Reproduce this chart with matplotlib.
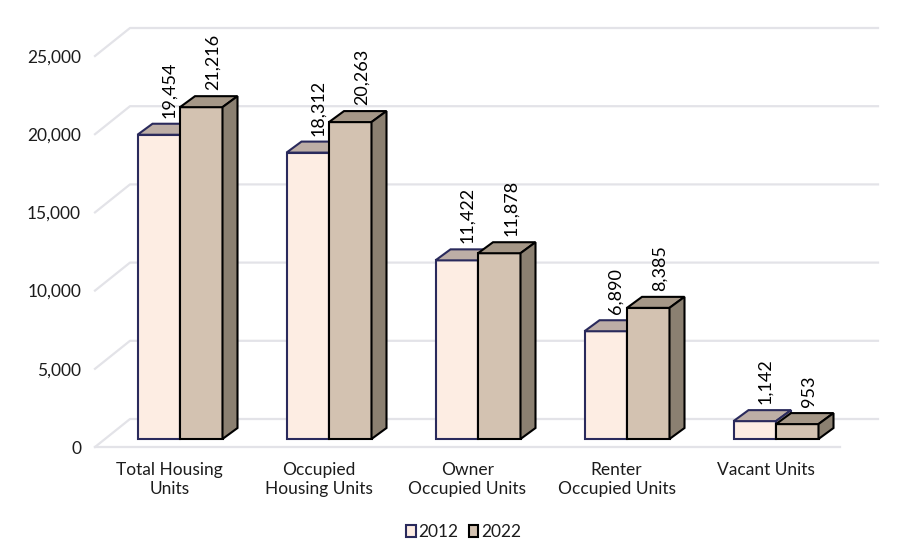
# -*- coding: utf-8 -*-
import matplotlib
matplotlib.use('Agg')
import matplotlib.pyplot as plt
from matplotlib.patches import Patch

# datos
categorias = ['Total Housing\nUnits', 'Occupied\nHousing Units', 'Owner\nOccupied Units',
              'Renter\nOccupied Units', 'Vacant Units']
valores_2012 = [19454, 18312, 11422, 6890, 1142]
valores_2022 = [21216, 20263, 11878, 8385, 953]
ticks_y = [0, 5000, 10000, 15000, 20000, 25000]

W, H = 918, 560
# marco del plano frontal en pixeles
IZQ, DER, ABAJO, ARRIBA = 95, 840, 447, 56
PX_X = 5 / (DER - IZQ)              # unidades de categoria por pixel
PX_Y = 25000 / (ABAJO - ARRIBA)     # unidades de valor por pixel

plt.rcParams['font.family'] = ['Lato', 'DejaVu Sans']
COLOR_TEXTO = '#1c1c1c'
COLOR_GRID = '#e3e3e8'

fig = plt.figure(figsize=(W / 100, H / 100), dpi=100)
ax = fig.add_axes([IZQ / W, 1 - ABAJO / H, (DER - IZQ) / W, (ABAJO - ARRIBA) / H])
ax.set_xlim(-0.5, 4.5)
ax.set_ylim(0, 25000)

# paredes del grafico 3D
fondo_x, fondo_y = 35 * PX_X, 28 * PX_Y
extra_der = 3 * PX_X
for t in ticks_y:
    ax.plot([-0.5, -0.5 + fondo_x, 4.5 + fondo_x + extra_der],
            [t, t + fondo_y, t + fondo_y],
            color=COLOR_GRID, lw=1.6, clip_on=False, zorder=1)
ax.plot([-0.5, 4.5], [0, 0], color=COLOR_GRID, lw=1.6, clip_on=False, zorder=1)


def barra_3d(x, valor, ancho, frente, tapa, lado, borde, orden, corr_texto):
    """Dibuja una barra con cara frontal, tapa y lateral"""
    base = 8 * PX_Y
    prof_x, prof_y = 15 * PX_X, 11 * PX_Y
    x0, x1 = x, x + ancho
    y0, y1 = base, base + valor
    ax.bar(x0, valor, width=ancho, bottom=base, align='edge', color=frente,
           edgecolor=borde, linewidth=1.5, zorder=orden)
    ax.fill([x0, x0 + prof_x, x1 + prof_x, x1], [y1, y1 + prof_y, y1 + prof_y, y1],
            facecolor=tapa, edgecolor=borde, linewidth=1.5, zorder=orden, clip_on=False)
    ax.fill([x1, x1 + prof_x, x1 + prof_x, x1], [y0, y0 + prof_y, y1 + prof_y, y1],
            facecolor=lado, edgecolor=borde, linewidth=1.5, zorder=orden, clip_on=False)
    ax.text((x0 + x1) / 2 + corr_texto * PX_X, y1 + prof_y + 6 * PX_Y, f'{valor:,}', rotation=90,
            ha='center', va='bottom', fontsize=13, color='black', zorder=10)


ancho_barra = 42.5 * PX_X
corrimiento = 10.5 * PX_X
for i in range(len(categorias)):
    centro = i + corrimiento
    barra_3d(centro - ancho_barra, valores_2012[i], ancho_barra,
             '#fdede3', '#bdaea6', '#a89c94', '#2a2a5c', 3 + i * 2, 10)
    barra_3d(centro, valores_2022[i], ancho_barra,
             '#d3c2b1', '#a59787', '#8b8071', 'black', 4 + i * 2, 12)

ax.set_xticks(range(len(categorias)))
ax.set_xticklabels(categorias, fontsize=12.5, color=COLOR_TEXTO, linespacing=1.25)
ax.set_yticks(ticks_y)
ax.set_yticklabels([f'{t:,}' for t in ticks_y], fontsize=12.5, color=COLOR_TEXTO)
ax.tick_params(axis='both', length=0)
ax.tick_params(axis='x', pad=10.5)
ax.tick_params(axis='y', pad=10)
for s in ax.spines.values():
    s.set_visible(False)
ax.patch.set_alpha(0)

# leyenda
handles = [Patch(facecolor='#fdede3', edgecolor='#2a2a5c', linewidth=1.5, label='2012'),
           Patch(facecolor='#d3c2b1', edgecolor='black', linewidth=1.5, label='2022')]
fig.legend(handles=handles, loc='center', bbox_to_anchor=(463.5 / W, 1 - 532 / H), ncol=2,
           frameon=False, fontsize=12.5, handlelength=0.55, handleheight=0.7,
           handletextpad=0.15, columnspacing=0.6, labelcolor=COLOR_TEXTO)

fig.savefig('out.png', dpi=100, facecolor='white')
